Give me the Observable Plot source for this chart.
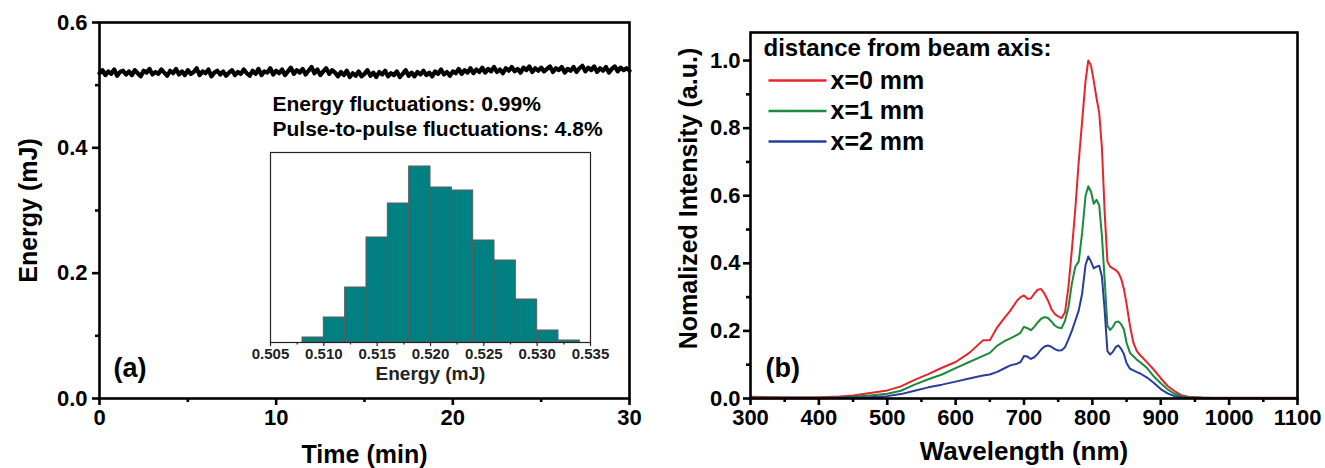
<!DOCTYPE html>
<html><head><meta charset="utf-8">
<script src="https://cdn.jsdelivr.net/npm/d3@7"></script>
<script src="https://cdn.jsdelivr.net/npm/@observablehq/plot@0.6"></script>
<style>
body{margin:0;background:#fff;}
#wrap{position:relative;width:1325px;height:468px;overflow:hidden;}
#wrap svg{position:absolute;}
</style></head><body><div id="wrap"></div>
<script>
// ---------- DATA ----------
// (a) pulse energy vs time, one reading every 10 s
const timeStepMin = 1 / 6;
const energyTrace = [
0.519,0.524,0.516,0.522,0.518,0.525,0.515,0.521,0.523,0.517,
0.522,0.516,0.524,0.519,0.514,0.523,0.520,0.526,0.517,0.521,
0.518,0.525,0.520,0.515,0.523,0.519,0.526,0.517,0.522,0.516,
0.524,0.518,0.521,0.527,0.516,0.522,0.519,0.525,0.514,0.520,
0.523,0.517,0.522,0.515,0.520,0.524,0.516,0.521,0.518,0.525,
0.519,0.515,0.523,0.518,0.526,0.516,0.522,0.520,0.527,0.517,
0.523,0.519,0.525,0.516,0.522,0.528,0.518,0.524,0.520,0.526,
0.517,0.523,0.529,0.519,0.525,0.516,0.522,0.527,0.518,0.524,
0.520,0.514,0.521,0.516,0.523,0.513,0.519,0.515,0.522,0.514,
0.518,0.524,0.515,0.520,0.513,0.521,0.517,0.523,0.514,0.519,
0.516,0.522,0.513,0.518,0.524,0.515,0.520,0.514,0.521,0.517,
0.523,0.516,0.520,0.514,0.522,0.518,0.525,0.517,0.521,0.515,
0.522,0.519,0.526,0.518,0.524,0.520,0.527,0.519,0.525,0.521,
0.528,0.520,0.526,0.522,0.529,0.521,0.525,0.519,0.527,0.523,
0.529,0.522,0.526,0.520,0.528,0.524,0.530,0.521,0.527,0.523,
0.528,0.522,0.526,0.530,0.521,0.527,0.524,0.529,0.520,0.526,
0.523,0.529,0.521,0.527,0.531,0.522,0.528,0.524,0.530,0.521,
0.527,0.523,0.529,0.520,0.526,0.530,0.522,0.528,0.524,0.527,
0.523
];
const annotationLines = ["Energy fluctuations: 0.99%", "Pulse-to-pulse fluctuations: 4.8%"];

// inset histogram
const histBinStart = [0.508,0.510,0.512,0.514,0.516,0.518,0.520,0.522,0.524,0.526,0.528,0.530,0.532];
const histBinEnd   = [0.510,0.512,0.514,0.516,0.518,0.520,0.522,0.524,0.526,0.528,0.530,0.532,0.534];
const histCounts   = [5,25,55,105,139,176,155,152,102,82,43,12,2];
const insetTicks = [0.505,0.510,0.515,0.520,0.525,0.530,0.535];
const insetMinor = [0.5075,0.5125,0.5175,0.5225,0.5275,0.5325];

// (b) spectra
const wavelength = [300,350,400,430,450,475,500,520,540,560,580,600,620,640,650,660,670,680,690,695,
700,705,710,715,720,725,730,735,740,745,750,755,760,765,770,775,780,785,790,794,
798,802,806,810,814,818,822,826,830,834,838,842,846,850,855,860,865,870,880,890,
900,910,920,930,940,960,1000,1050,1100];
const intensityX0 = [0.005,0.004,0.004,0.006,0.009,0.016,0.024,0.036,0.055,0.072,0.091,0.108,0.135,0.172,0.172,0.208,0.235,0.260,0.290,0.300,
0.305,0.295,0.296,0.310,0.322,0.324,0.310,0.290,0.265,0.250,0.243,0.238,0.255,0.330,0.440,0.560,0.700,0.820,0.940,1.000,
0.985,0.940,0.890,0.845,0.740,0.550,0.405,0.390,0.385,0.380,0.372,0.355,0.325,0.280,0.215,0.165,0.140,0.128,0.107,0.085,
0.060,0.037,0.022,0.010,0.005,0.003,0.002,0.002,0.002];
const intensityX1 = [0.002,0.002,0.002,0.003,0.005,0.009,0.014,0.023,0.041,0.057,0.071,0.090,0.108,0.126,0.135,0.155,0.168,0.178,0.188,0.195,
0.212,0.208,0.202,0.212,0.225,0.236,0.241,0.238,0.228,0.216,0.210,0.208,0.230,0.270,0.340,0.390,0.405,0.490,0.600,0.628,
0.612,0.576,0.588,0.572,0.480,0.350,0.215,0.203,0.212,0.226,0.228,0.220,0.205,0.165,0.135,0.125,0.115,0.107,0.090,0.065,
0.045,0.027,0.014,0.006,0.003,0.002,0.001,0.001,0.001];
const intensityX2 = [0.001,0.001,0.001,0.002,0.003,0.004,0.007,0.013,0.023,0.033,0.041,0.050,0.059,0.068,0.071,0.078,0.088,0.098,0.103,0.108,
0.126,0.124,0.117,0.122,0.132,0.145,0.154,0.157,0.153,0.146,0.142,0.143,0.152,0.175,0.200,0.230,0.260,0.310,0.395,0.420,
0.405,0.385,0.390,0.393,0.360,0.260,0.140,0.130,0.138,0.152,0.157,0.147,0.132,0.105,0.088,0.083,0.078,0.074,0.062,0.046,
0.028,0.015,0.007,0.003,0.002,0.001,0.001,0.001,0.001];
const seriesNames = ["x=0 mm","x=1 mm","x=2 mm"];
const seriesColors = ["#e8242b","#1a8a3c","#283c9c"];
const legendTitle = "distance from beam axis:";

const leftXTicks = [0,10,20,30], leftXMinor = [5,15,25];
const leftYTicks = [0,0.2,0.4,0.6], leftYMinor = [0.1,0.3,0.5];
const rightXTicks = [300,400,500,600,700,800,900,1000,1100];
const rightXMinor = [350,450,550,650,750,850,950,1050];
const rightYTicks = [0,0.2,0.4,0.6,0.8,1.0];
const rightYMinor = [0.1,0.3,0.5,0.7,0.9];

// ---------- DRAW ----------
const FONT = '"Liberation Sans", Arial, Helvetica, sans-serif';
const baseStyle = {fontFamily: FONT, fontWeight: "bold", background: "transparent", color: "#000", overflow: "visible"};
const wrap = document.getElementById("wrap");
function place(svg, left, top) { svg.style.left = left + "px"; svg.style.top = top + "px"; wrap.appendChild(svg); }
const f1 = d3.format(".1f");
const blank = () => "";
const T = (s, opts) => Plot.text([s], {text: d => d, lineAnchor: "middle", ...opts});

const trace = energyTrace.map((e, i) => ({t: i * timeStepMin, e}));

const leftPlot = Plot.plot({
  width: 660, height: 468, marginLeft: 99, marginRight: 31, marginTop: 22, marginBottom: 70,
  x: {domain: [0, 30]}, y: {domain: [0, 0.6]},
  style: baseStyle,
  marks: [
    Plot.line(trace, {x: "t", y: "e", stroke: "#000", strokeWidth: 4.2}),
    Plot.frame({stroke: "#000", strokeWidth: 2.6}),
    Plot.axisX({ticks: leftXTicks, tickSize: 7, tickPadding: 4, fontSize: 22, strokeWidth: 2.6, label: null, tickFormat: d3.format("d")}),
    Plot.axisX({ticks: leftXMinor, tickSize: 4, strokeWidth: 2.6, label: null, tickFormat: blank}),
    Plot.axisY({ticks: leftYTicks, tickSize: 7, tickPadding: 5, fontSize: 22, strokeWidth: 2.6, label: null, tickFormat: f1}),
    Plot.axisY({ticks: leftYMinor, tickSize: 4, strokeWidth: 2.6, label: null, tickFormat: blank}),
    T("Time (min)", {frameAnchor: "bottom", dy: 56, fontSize: 25}),
    T("Energy (mJ)", {frameAnchor: "left", dx: -71, rotate: -90, textAnchor: "middle", fontSize: 25}),
    T("(a)", {frameAnchor: "bottom-left", dx: 14, dy: -30, textAnchor: "start", fontSize: 27}),
    ...annotationLines.map((s, i) => T(s, {frameAnchor: "top-left", dx: 173, dy: 82 + i * 24.5, textAnchor: "start", fontSize: 21}))
  ]
});
place(leftPlot, 0, 0);

const hist = histCounts.map((c, i) => ({x1: histBinStart[i], x2: histBinEnd[i], c}));
const insetPlot = Plot.plot({
  width: 380, height: 250, marginLeft: 30, marginRight: 30, marginTop: 12, marginBottom: 48,
  x: {domain: [0.505, 0.535]}, y: {domain: [0, 190], axis: null},
  style: {...baseStyle, color: "#222"},
  marks: [
    Plot.rectY(hist, {x1: "x1", x2: "x2", y: "c", fill: "#008080", stroke: "#5c5c5c", strokeWidth: 1}),
    Plot.frame({stroke: "#222", strokeWidth: 1.2}),
    Plot.axisX({ticks: insetTicks, tickSize: 4, tickPadding: 2, fontSize: 15, strokeWidth: 1.2, label: null, tickFormat: d3.format(".3f")}),
    Plot.axisX({ticks: insetMinor, tickSize: 2.5, strokeWidth: 1.2, label: null, tickFormat: blank}),
    T("Energy (mJ)", {frameAnchor: "bottom", dy: 31, fontSize: 19, fill: "#222"})
  ]
});
place(insetPlot, 240, 140);

const spectra = [intensityX0, intensityX1, intensityX2].flatMap((arr, s) =>
  arr.map((v, i) => ({w: wavelength[i], v, series: seriesNames[s]})));
const lineSymbol = {draw(ctx) { ctx.moveTo(-29, 0); ctx.lineTo(29, 0); }};

const rightPlot = Plot.plot({
  width: 665, height: 468, marginLeft: 90, marginRight: 28, marginTop: 32, marginBottom: 70,
  x: {domain: [300, 1100]}, y: {domain: [0, 1.083]},
  color: {domain: seriesNames, range: seriesColors},
  style: baseStyle,
  marks: [
    Plot.line(spectra, {x: "w", y: "v", z: "series", stroke: "series", strokeWidth: 2}),
    Plot.frame({stroke: "#000", strokeWidth: 2.6}),
    Plot.axisX({ticks: rightXTicks, tickSize: 7, tickPadding: 4, fontSize: 22, strokeWidth: 2.6, label: null, tickFormat: d3.format("d")}),
    Plot.axisX({ticks: rightXMinor, tickSize: 4, strokeWidth: 2.6, label: null, tickFormat: blank}),
    Plot.axisY({ticks: rightYTicks, tickSize: 7, tickPadding: 3, fontSize: 22, strokeWidth: 2.6, label: null, tickFormat: f1}),
    Plot.axisY({ticks: rightYMinor, tickSize: 4, strokeWidth: 2.6, label: null, tickFormat: blank}),
    T("Wavelength (nm)", {frameAnchor: "bottom", dy: 53, fontSize: 26}),
    T("Nomalized Intensity (a.u.)", {frameAnchor: "left", dx: -62, dy: -17, rotate: -90, textAnchor: "middle", fontSize: 25}),
    T("(b)", {frameAnchor: "bottom-left", dx: 15, dy: -30, textAnchor: "start", fontSize: 27}),
    T(legendTitle, {frameAnchor: "top-left", dx: 13, dy: 16, textAnchor: "start", fontSize: 24}),
    ...seriesNames.flatMap((name, i) => [
      Plot.dot([name], {frameAnchor: "top-left", dx: 47, dy: 48 + i * 30.5, symbol: lineSymbol, stroke: seriesColors[i], strokeWidth: 2.5}),
      T(name, {frameAnchor: "top-left", dx: 80, dy: 48 + i * 30.5, textAnchor: "start", fontSize: 25})
    ])
  ]
});
place(rightPlot, 660, 0);
</script></body></html>
